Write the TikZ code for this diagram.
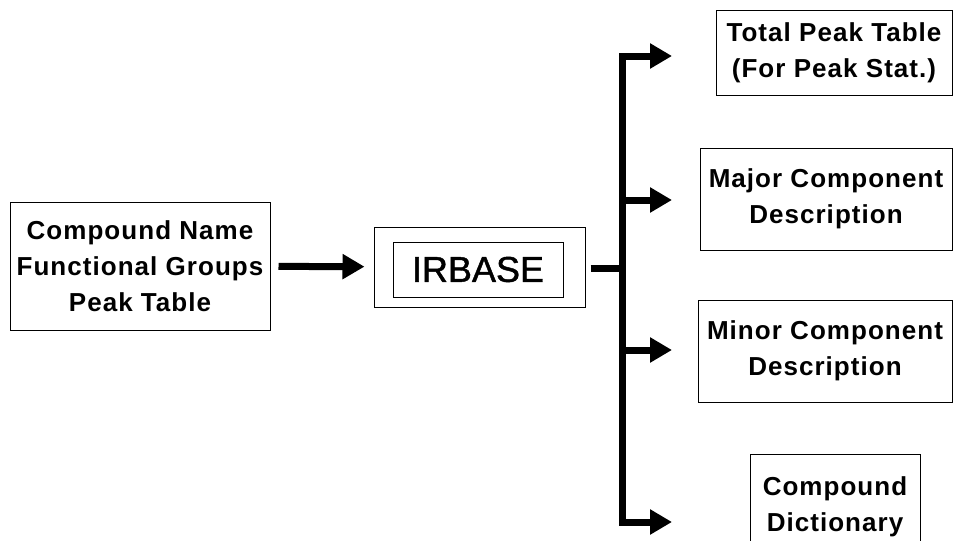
\documentclass[tikz,border=0pt]{standalone}
\usepackage{fontspec}
\setmainfont{Liberation Sans}
\newfontfamily\boxfont{Liberation Sans}[LetterSpace=4]
\newfontfamily\namefont{Liberation Sans}[FakeBold=1.2]
\usetikzlibrary{arrows.meta}

\tikzset{
  flow/.style={line width=7pt, -{Triangle[length=22pt,width=24pt]}},
  bus/.style={line width=7pt, {Triangle[length=22pt,width=24pt]}-{Triangle[length=22pt,width=24pt]}},
}

\begin{document}
\begin{tikzpicture}[x=1pt,y=-1pt]
  \useasboundingbox (0,0) rectangle (954,541);

  \begin{scope}[every node/.style={draw, line width=1pt, align=center, inner sep=0pt,
      font=\boxfont\bfseries\fontsize{26}{36}\selectfont}]
    \node[minimum width=260, minimum height=128] (src)   at (140,266)   {Compound Name\\Functional Groups\\Peak Table};
    \node[minimum width=236, minimum height=85]  (total) at (834,52.5)  {Total Peak Table\\(For Peak Stat.)};
    \node[minimum width=252, minimum height=102] (major) at (826,199)   {Major Component\\Description};
    \node[minimum width=254, minimum height=102] (minor) at (825,351)   {Minor Component\\Description};
    \node[minimum width=170, minimum height=136] (dict)  at (835,522)   {Compound\\Dictionary\\\mbox{}};
  \end{scope}

  \begin{scope}[every node/.style={draw, line width=1pt, inner sep=0pt}]
    \node[minimum width=211, minimum height=80] (irbase) at (479.5,267) {};
    \node[minimum width=170, minimum height=55, font=\namefont\fontsize{36}{44}\selectfont] (irname) at (478,269.5) {IRBASE};
  \end{scope}

  \coordinate (b0) at (622,268);
  \coordinate (b1) at (622,56);
  \coordinate (b2) at (622,200);
  \coordinate (b3) at (622,350);
  \coordinate (b4) at (622,522);
  \coordinate (t1) at (672,56);
  \coordinate (t2) at (672,200);
  \coordinate (t3) at (672,350);
  \coordinate (t4) at (672,522);

  \draw[flow, shorten <=8pt, shorten >=9pt] (src) -- (irbase);
  \draw[line width=7pt, shorten <=5pt] (irbase.east |- b0) -- (b0);
  \draw[bus] (t1) -- (b1) -- (b4) -- (t4);
  \draw[flow] (b2) -- (t2);
  \draw[flow] (b3) -- (t3);

\end{tikzpicture}
\end{document}
